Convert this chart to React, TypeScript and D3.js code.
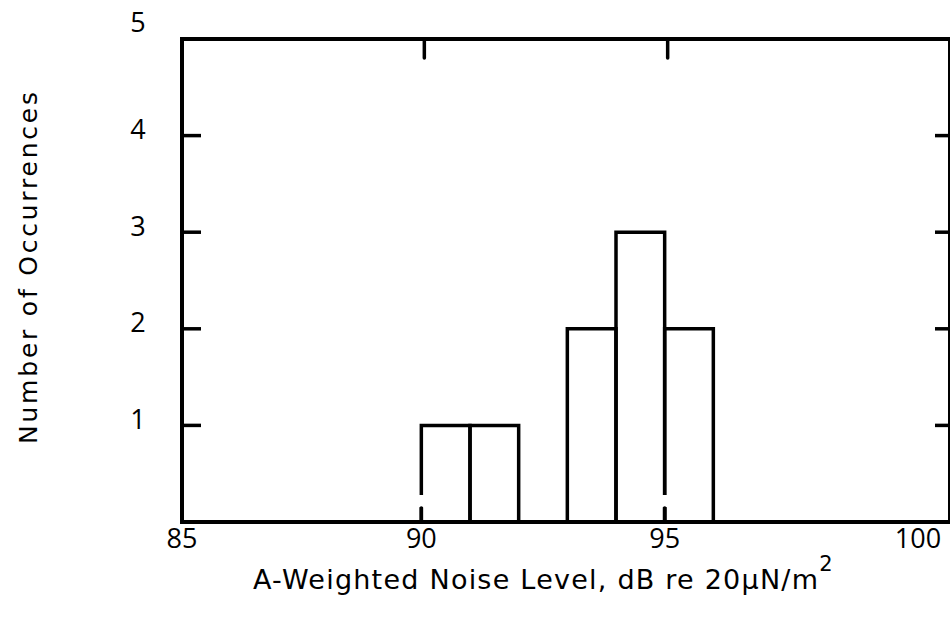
import React from 'react';
import * as d3 from 'd3';

// Histogram bins (lower edge, dB) and their counts
const binStarts = [90, 91, 93, 94, 95];
const binWidth = 1;
const binCounts = [1, 1, 2, 3, 2];

// Axis ticks
const xTickLabels = [85, 90, 95, 100];
const xInnerTicks = [90, 95];
const yTickLabels = [1, 2, 3, 4, 5];
const yInnerTicks = [1, 2, 3, 4];

const xTitle = 'A-Weighted Noise Level, dB re 20\u03BCN/m';
const yTitle = 'Number of Occurrences';

export default function App() {
  const W = 950;
  const H = 618;
  const x = d3.scaleLinear().domain([85, 100]).range([178, 908]);
  const y = d3.scaleLinear().domain([0, 5]).range([522, 39]);
  const left = 182;
  const right = 950;
  const top = y(5);
  const bottom = y(0);
  const font = "'Open Sans', sans-serif";
  const titleFont = "'DejaVu Sans', sans-serif";
  const tickLen = 19;

  const bars = binStarts.map((s, i) => {
    const x0 = x(s);
    const x1 = x(s + binWidth);
    const yt = y(binCounts[i]);
    return `M${x0},${bottom} V${yt} H${x1} V${bottom}`;
  });

  return (
    <svg width={W} height={H} style={{ position: 'absolute', left: 0, top: 0, background: '#fff' }}>
      <rect x={0} y={0} width={W} height={H} fill="#fff" />
      {/* bars */}
      {bars.map((d, i) => (
        <path key={i} d={d} fill="none" stroke="#000" strokeWidth={3.5} strokeLinejoin="miter" />
      ))}
      {/* small breaks just above the bottom ticks */}
      {xInnerTicks.map((v) => (
        <line key={'g' + v} x1={x(v)} x2={x(v)} y1={bottom - 27} y2={bottom - 15} stroke="#fff" strokeWidth={6} />
      ))}
      {/* frame */}
      <path
        d={`M${left},${bottom} V${top} H${right} M${right},${top} V${bottom} M${left},${bottom} H${right}`}
        fill="none"
        stroke="#000"
        strokeWidth={4}
        strokeLinecap="square"
      />
      {/* top inner ticks */}
      {xInnerTicks.map((v) => (
        <line key={'t' + v} x1={x(v) + 3} x2={x(v) + 3} y1={top} y2={top + tickLen} stroke="#000" strokeWidth={3.5} strokeLinecap="round" />
      ))}
      {/* bottom inner ticks */}
      {xInnerTicks.map((v) => (
        <line key={'b' + v} x1={x(v)} x2={x(v)} y1={bottom} y2={bottom - 14} stroke="#000" strokeWidth={3.5} strokeLinecap="round" />
      ))}
      {/* left and right inner ticks */}
      {yInnerTicks.map((v) => (
        <g key={'y' + v}>
          <line x1={left} x2={left + tickLen} y1={y(v)} y2={y(v)} stroke="#000" strokeWidth={3.5} />
          <line x1={right} x2={right - 15} y1={y(v)} y2={y(v)} stroke="#000" strokeWidth={3.5} />
        </g>
      ))}
      {/* x tick labels */}
      {xTickLabels.map((v) => (
        <text key={'xl' + v} x={x(v) + (v === 85 ? 4 : v === 100 ? 10 : 0)} y={548} textAnchor="middle" fontFamily={font} fontSize={27} fill="#000">
          {v}
        </text>
      ))}
      {/* y tick labels */}
      {yTickLabels.map((v, i) => (
        <text
          key={'yl' + v}
          x={138}
          y={y(v) + (i === yTickLabels.length - 1 ? -7.5 : 3.5)}
          textAnchor="middle"
          fontFamily={font}
          fontSize={27}
          fill="#000"
        >
          {v}
        </text>
      ))}
      {/* x axis title */}
      <text x={253} y={589} fontFamily={titleFont} fontSize={27} fill="#000">
        <tspan textLength={565} lengthAdjust="spacing">{xTitle}</tspan>
        <tspan dy={-18} fontSize={21}>2</tspan>
      </text>
      {/* y axis title */}
      <text
        transform={`translate(37,268) rotate(-90)`}
        textAnchor="middle"
        fontFamily={titleFont}
        fontSize={25}
        textLength={352}
        lengthAdjust="spacing"
        fill="#000"
      >
        {yTitle}
      </text>
    </svg>
  );
}
